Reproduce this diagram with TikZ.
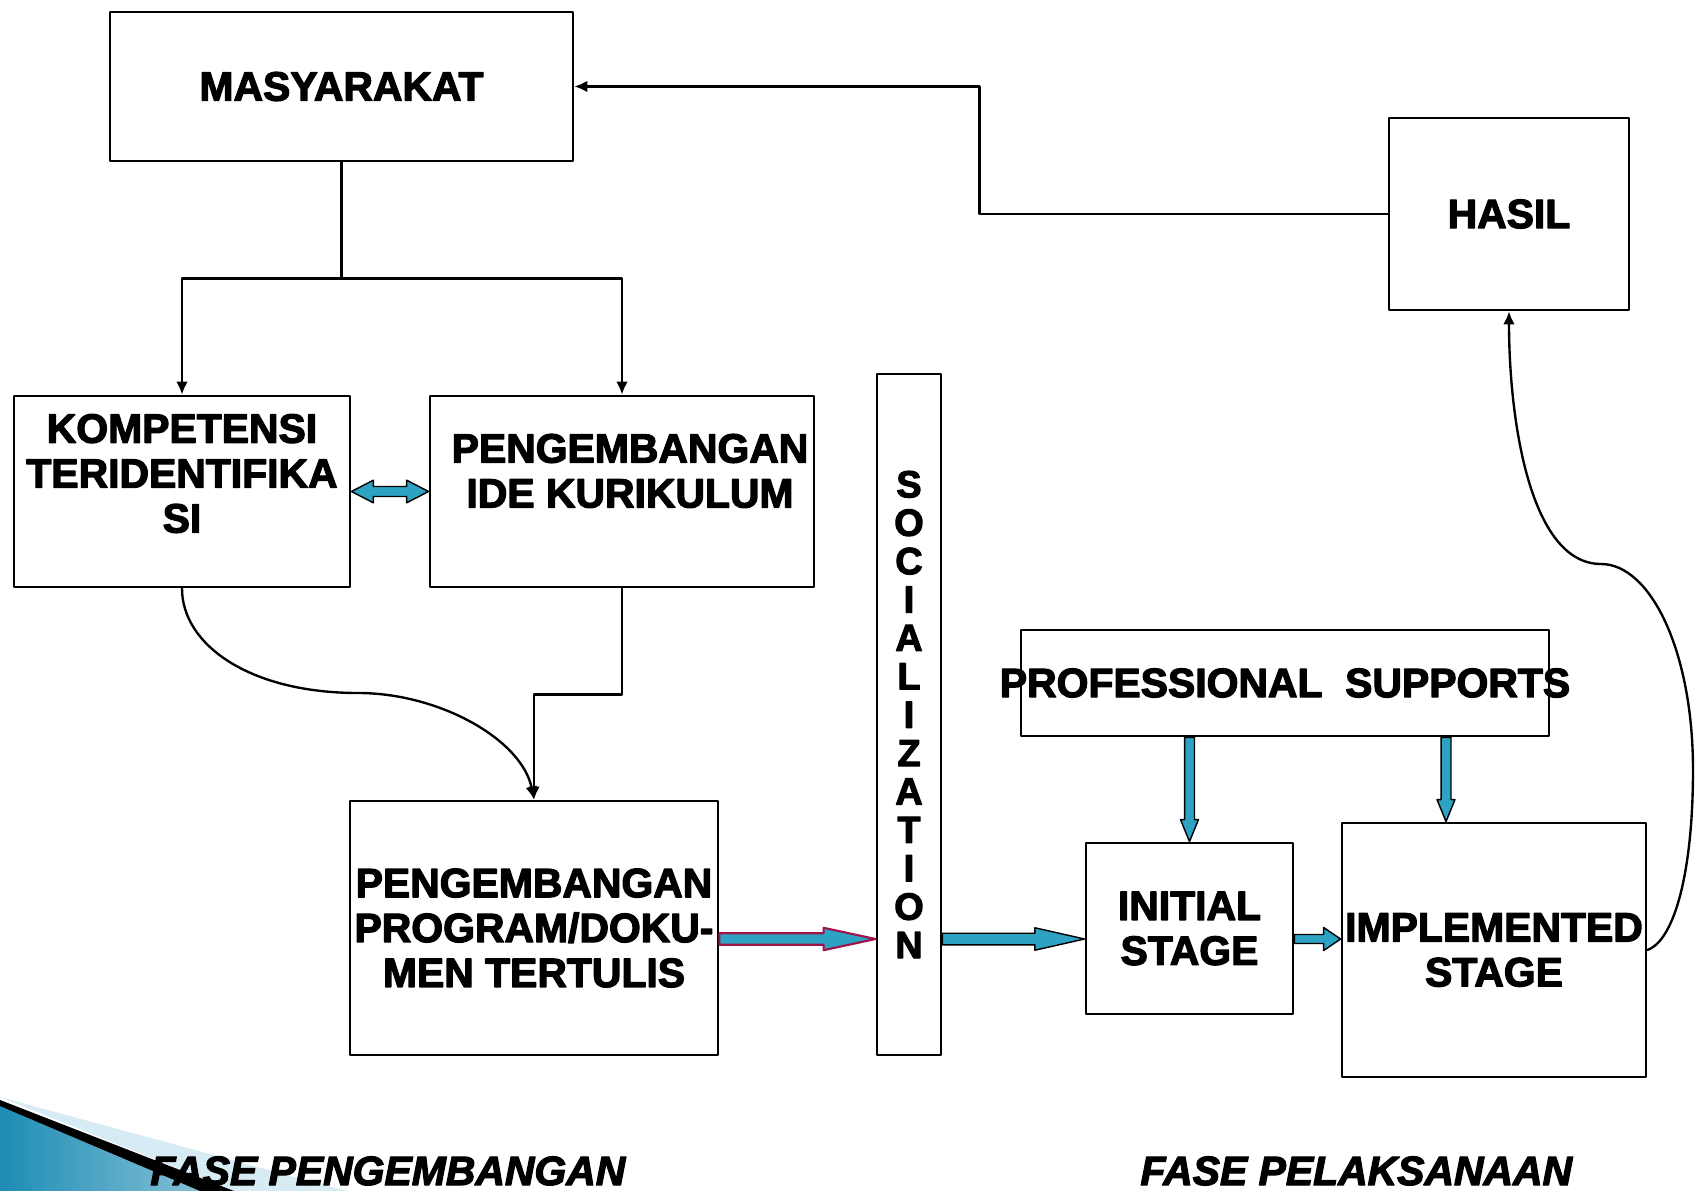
\documentclass[tikz,border=0pt]{standalone}
\usepackage{fontspec}
\setmainfont{Liberation Sans}[BoldFeatures={FakeBold=3},BoldItalicFeatures={FakeBold=3}]
\usepackage{tikz}
\usetikzlibrary{arrows.meta}
\usetikzlibrary{calc}
\tikzset{>={Latex[length=5.5pt,width=5pt]}}

\newlength{\pxu}
\setlength{\pxu}{0.42303pt}

\definecolor{arrowblue}{RGB}{46,162,194}
\definecolor{arrowred}{RGB}{160,20,74}
\definecolor{decoblue}{RGB}{30,140,180}
\definecolor{decolight}{RGB}{214,235,243}

\tikzset{
  box/.style n args={2}{draw, line width=1.2pt, inner sep=0pt,
    minimum width=#1*\pxu, minimum height=#2*\pxu},
  txt/.style={align=center, inner sep=0pt, font=\bfseries\fontsize{17.3}{19}\selectfont},
  soctxt/.style={align=center, inner sep=0pt, font=\bfseries\fontsize{16}{16.24}\selectfont},
  phase/.style={inner sep=0pt, font=\bfseries\itshape\fontsize{17.3}{19}\selectfont},
  conn/.style={line width=1pt},
  fat/.style={draw=black, line width=0.6pt, fill=arrowblue},
  fatred/.style={draw=arrowred, line width=0.9pt, fill=arrowblue}
}

% block arrow: [style]{from}{to}{half shaft}{half head}{head length}
\newcommand{\fatarrow}[6][fat]{%
  \coordinate (fa-h) at ($(#3)!#6!(#2)$);
  \draw[#1] ($(#2)!#4!90:(#3)$) -- ($(fa-h)!#4!90:(#3)$) -- ($(fa-h)!#5!90:(#3)$) -- (#3)
    -- ($(fa-h)!#5!-90:(#3)$) -- ($(fa-h)!#4!-90:(#3)$) -- ($(#2)!#4!-90:(#3)$) -- cycle;
}
% block arrow with two heads
\newcommand{\fatdouble}[6][fat]{%
  \coordinate (fa-a) at ($(#2)!#6!(#3)$);
  \coordinate (fa-b) at ($(#3)!#6!(#2)$);
  \draw[#1] (#2) -- ($(fa-a)!#5!90:(#3)$) -- ($(fa-a)!#4!90:(#3)$) -- ($(fa-b)!#4!90:(#3)$)
    -- ($(fa-b)!#5!90:(#3)$) -- (#3) -- ($(fa-b)!#5!-90:(#3)$) -- ($(fa-b)!#4!-90:(#3)$)
    -- ($(fa-a)!#4!-90:(#3)$) -- ($(fa-a)!#5!-90:(#3)$) -- cycle;
}

\begin{document}
\begin{tikzpicture}[line cap=round,line join=round,x=0.42303pt,y=-0.42303pt]
\useasboundingbox (0,0) rectangle (1702,1191);

% corner decoration
\shade[left color=decoblue, right color=decoblue!55!white] (0,1105) -- (200,1191) -- (0,1191) -- cycle;
\fill[decolight] (0,1097) -- (346,1191) -- (234,1191) -- cycle;
\fill[black] (0,1100) -- (234,1191) -- (200,1191) -- (0,1106) -- cycle;

% boxes
\node[box={463}{149}, label={[txt]center:MASYARAKAT}] (masy) at (341.5,86.5) {};
\node[box={240}{192}, label={[txt]center:HASIL}] (hasil) at (1509,214) {};
\node[box={336}{191}, label={[txt,yshift=7.6pt]center:{KOMPETENSI\\TERIDENTIFIKA\\SI}}] (komp) at (182,491.5) {};
\node[box={384}{191}, label={[txt,xshift=3.4pt,yshift=8.7pt]center:{PENGEMBANGAN\\IDE KURIKULUM}}] (ide) at (622,491.5) {};
\node[box={368}{254}, label={[txt]center:{PENGEMBANGAN\\PROGRAM/DOKU-\\MEN TERTULIS}}] (prog) at (534,928) {};
\node[box={64}{681}, label={[soctxt]center:{S\\O\\C\\I\\A\\L\\I\\Z\\A\\T\\I\\O\\N}}] (soc) at (909,714.5) {};
\node[box={528}{106}, label={[txt]center:{PROFESSIONAL~~SUPPORTS}}] (prof) at (1285,683) {};
\node[box={207}{171}, label={[txt]center:{INITIAL\\STAGE}}] (init) at (1189.5,928.5) {};
\node[box={304}{254}, label={[txt]center:{IMPLEMENTED\\STAGE}}] (impl) at (1494,950) {};

% phase titles
\node[phase, anchor=base west] (fase1) at (150,1185) {FASE PENGEMBANGAN};
\node[phase, anchor=base west] (fase2) at (1140,1185) {FASE PELAKSANAAN};

% thin connectors
\draw[conn] (masy.south) -- ++(0,116) coordinate (split);
\draw[conn,->] (split) -| (komp.north);
\draw[conn,->] (split) -| (ide.north);
\draw[conn,->] (hasil.west) -- ++(-408,0) |- (masy.east);
\draw[conn,->] (ide.south) -- ++(0,106) -| (prog.north);
\draw[conn,->] (komp.south) .. controls (182,645) and (250,693) .. (358,693)
  .. controls (440,693) and (522,740) .. (prog.north);
\draw[conn,->] (impl.east) .. controls (1675,940) and (1693,870) .. (1693,770)
  .. controls (1693,650) and (1650,564) .. (1601,564)
  .. controls (1530,564) and (1509,420) .. (hasil.south);

% block arrows
\coordinate (ay) at (0,939);
\coordinate (ax) at (1446,0);
\coordinate (p1) at (prog.east |- ay);
\coordinate (p2) at (soc.west |- ay);
\coordinate (p3) at (soc.east |- ay);
\coordinate (p4) at (init.west |- ay);
\coordinate (p5) at (init.east |- ay);
\coordinate (p6) at (impl.west |- ay);
\coordinate (q1) at (init.north |- prof.south);
\coordinate (q2) at (ax |- prof.south);
\coordinate (q3) at (ax |- impl.north);
\fatdouble{komp.east}{ide.west}{2.1pt}{4.8pt}{9.3pt}
\fatarrow[fatred]{p1}{p2}{2.45pt}{4.74pt}{22pt}
\fatarrow{p3}{p4}{2.45pt}{4.74pt}{21pt}
\fatarrow{p5}{p6}{1.9pt}{4.9pt}{7.2pt}
\fatarrow{q1}{init.north}{2.1pt}{3.8pt}{9.3pt}
\fatarrow{q2}{q3}{2.1pt}{3.8pt}{9.3pt}
\end{tikzpicture}
\end{document}
